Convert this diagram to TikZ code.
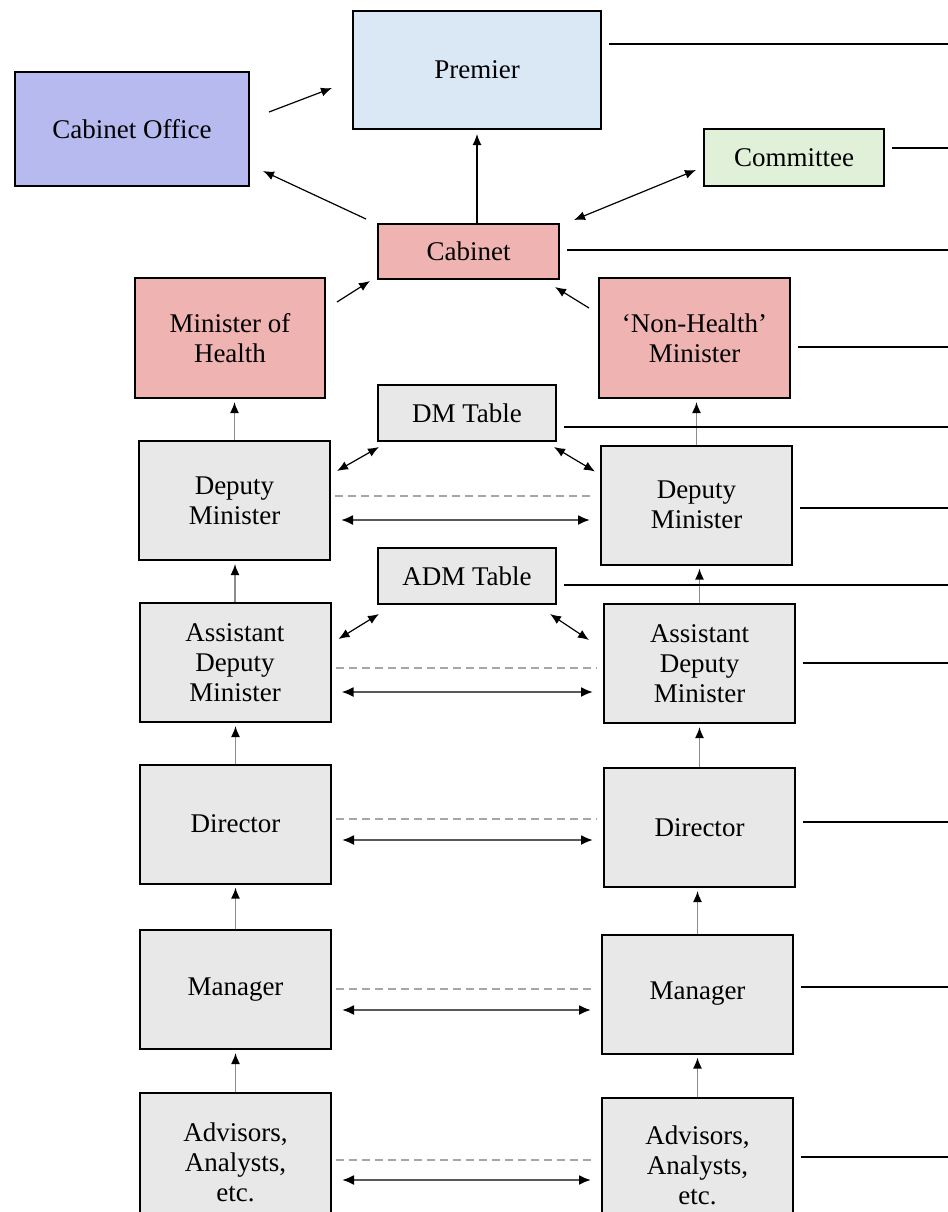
\documentclass[tikz,border=0pt]{standalone}
\usepackage{fontspec}
\setmainfont{Liberation Serif}
\usetikzlibrary{arrows.meta}

\definecolor{premblue}{HTML}{DAE8F6}
\definecolor{officeblue}{HTML}{B6BAEE}
\definecolor{comgreen}{HTML}{E1F0D8}
\definecolor{minpink}{HTML}{EFB3B1}
\definecolor{boxgray}{HTML}{E8E8E8}

\begin{document}
\begin{tikzpicture}[x=0.5pt, y=-0.5pt,
  box/.style={draw, line width=1pt, align=center, inner sep=2pt,
    font=\fontsize{13.5}{15}\selectfont},
  level/.style={box, fill=boxgray, minimum width=95.5pt, minimum height=59.5pt},
  table/.style={box, fill=boxgray, minimum width=89pt, minimum height=28pt},
  arr/.style={line width=0.6pt, -{Latex[length=5.5pt,width=4.5pt]}},
  twoway/.style={line width=0.6pt, {Latex[length=5.5pt,width=4.5pt]}-{Latex[length=5.5pt,width=4.5pt]}},
  upline/.style={line width=0.8pt, draw=black!45, -{Latex[length=5.5pt,width=4.5pt,color=black]}},
  across/.style={line width=1pt, draw=black!65, {Latex[length=6pt,width=5pt,color=black]}-{Latex[length=6pt,width=5pt,color=black]}},
  dashline/.style={line width=0.6pt, draw=black!35, dash pattern=on 4pt off 2.5pt},
  rline/.style={line width=1pt}]
  \useasboundingbox (0,0) rectangle (948,1212);

  % top of government
  \node[box, fill=premblue, minimum width=124pt, minimum height=59pt] (premier) at (477,70) {Premier};
  \node[box, fill=officeblue, minimum width=117pt, minimum height=57pt] (cabOffice) at (132,129) {Cabinet Office};
  \node[box, fill=comgreen, minimum width=90pt, minimum height=28.5pt] (committee) at (794,157.5) {Committee};
  \node[box, fill=minpink, minimum width=90.5pt, minimum height=27.5pt] (cabinet) at (468.5,251.5) {Cabinet};
  \node[box, fill=minpink, minimum width=95pt, minimum height=60pt] (minHealth) at (230,338) {Minister of\\Health};
  \node[box, fill=minpink, minimum width=95.5pt, minimum height=60pt] (minOther) at (694.5,338) {‘Non-Health’\\Minister};

  % tables
  \node[table] (dmTable) at (467,413) {DM Table};
  \node[table] (admTable) at (467,576) {ADM Table};

  % two ministries
  \node[level] (dmL) at (234.5,500.5) {Deputy\\Minister};
  \node[level] (dmR) at (696.5,505) {Deputy\\Minister};
  \node[level] (admL) at (235,662.5) {Assistant\\Deputy\\Minister};
  \node[level] (admR) at (699.5,663.5) {Assistant\\Deputy\\Minister};
  \node[level] (dirL) at (235.5,824) {Director};
  \node[level] (dirR) at (699.5,827.5) {Director};
  \node[level] (mgrL) at (235.5,989.5) {Manager};
  \node[level] (mgrR) at (697.5,994) {Manager};
  \node[level, minimum height=69pt] (advL) at (235.5,1162) {Advisors,\\Analysts,\\etc.};
  \node[level, minimum height=67pt] (advR) at (697.5,1165) {Advisors,\\Analysts,\\etc.};

  % links at the top
  \draw[arr] ([shift={(19,-17)}]cabOffice.east) -- ([shift={(-20,18)}]premier.west);
  \draw[arr] ([shift={(-11,-4)}]cabinet.north west) -- ([shift={(13,-16)}]cabOffice.south east);
  \draw[arr] (cabinet.north -| premier.south) -- ([shift={(0,4)}]premier.south);
  \draw[twoway] ([shift={(14,-3)}]cabinet.north east) -- ([shift={(-7,-17)}]committee.south west);
  \draw[arr] ([shift={(11,25)}]minHealth.north east) -- ([shift={(-7,1)}]cabinet.south west);
  \draw[arr] ([shift={(-9,31)}]minOther.north west) -- ([shift={(-5,7)}]cabinet.south east);

  % tables to both sides
  \draw[twoway] ([shift={(2,5)}]dmTable.south west) -- ([shift={(6,31)}]dmL.north east);
  \draw[twoway] ([shift={(-3,5)}]dmTable.south east) -- ([shift={(-5,27)}]dmR.north west);
  \draw[twoway] ([shift={(2,9)}]admTable.south west) -- ([shift={(7,37)}]admL.north east);
  \draw[twoway] ([shift={(-7,9)}]admTable.south east) -- ([shift={(-14,37)}]admR.north west);

  % reporting up each column
  \foreach \a/\b in {dmL/minHealth, admL/dmL, dirL/admL, mgrL/dirL, advL/mgrL,
                     dmR/minOther, admR/dmR, dirR/admR, mgrR/dirR, advR/mgrR}
    \draw[upline] (\a.north) -- ([yshift=-1.5pt]\a.north |- \b.south);

  % links between the ministries
  \foreach \a/\b/\yd/\ya in {dmL/dmR/496/520, admL/admR/668/692, dirL/dirR/819/840,
                             mgrL/mgrR/989/1010, advL/advR/1160/1180} {
    \draw[dashline] ([xshift=2]\a.east |- 0,\yd) -- ([xshift=-3]\b.west |- 0,\yd);
    \draw[across] ([xshift=5]\a.east |- 0,\ya) -- ([xshift=-5]\b.west |- 0,\ya);
  }

  % lines out to the right
  \foreach \n/\y in {premier/44, committee/148, cabinet/250, minOther/347, dmTable/427,
                     dmR/508, admTable/585, admR/663, dirR/822, mgrR/987, advR/1157} {
    \coordinate (out\n) at (948,\y);
    \draw[rline] (out\n -| \n.east) ++(7,0) -- (out\n);
  }
\end{tikzpicture}
\end{document}
